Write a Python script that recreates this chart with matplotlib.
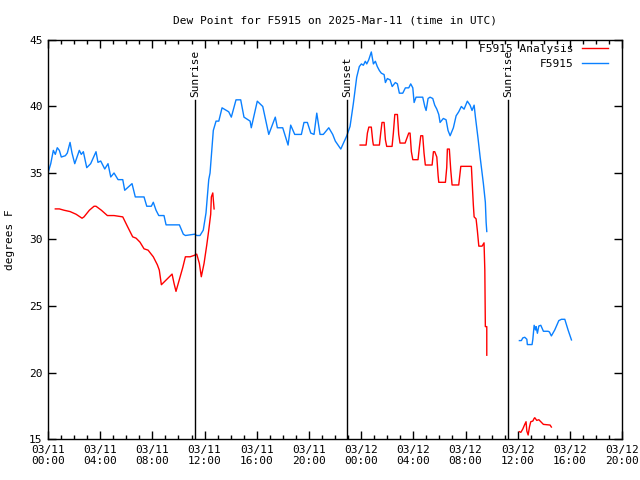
"""
Dew point at station F5915 on 2025-Mar-11, observed vs. analysis,
drawn in the look of the gnuplot original.
"""
import numpy as np
import matplotlib
matplotlib.use("Agg")
import matplotlib.pyplot as plt
from matplotlib.ticker import MultipleLocator, FixedLocator, NullLocator


OUTPUT = "out.png"
FONT = "DejaVu Sans Mono"
RED = "#ff0000"
BLUE = "#0a80ff"

# hours since 03/11 00:00 UTC
OBS_HOURS_1 = [
    0.00, 0.21, 0.41, 0.56, 0.71, 0.87, 1.02, 1.33, 1.48, 1.69, 1.84, 2.05,
    2.40, 2.55, 2.71, 2.97, 3.27, 3.68, 3.83, 4.04, 4.35, 4.60, 4.81, 5.06,
    5.37, 5.73, 5.88, 6.44, 6.69, 7.36, 7.57, 7.92, 8.07, 8.28, 8.49, 8.89,
    9.05, 10.07, 10.37, 10.53, 11.25, 11.40, 11.65, 11.90, 12.11, 12.32,
    12.42, 12.67, 12.88, 13.09, 13.34, 13.85, 14.05, 14.41, 14.77, 15.02,
    15.49, 15.58, 16.04, 16.46, 16.92, 17.42, 17.58, 17.99, 18.40, 18.60,
    18.91, 19.42, 19.62, 19.88, 20.14, 20.39, 20.60, 20.85, 21.10, 21.52,
    21.82, 22.02, 22.44, 22.90, 23.15, 23.40, 23.66, 23.86, 24.02, 24.17,
    24.32, 24.43, 24.58, 24.78, 24.94, 25.09, 25.24, 25.40, 25.55, 25.76,
    25.86, 26.01, 26.22, 26.38, 26.62, 26.78, 26.93, 27.19, 27.39, 27.65,
    27.80, 27.96, 28.06, 28.21, 28.72, 28.88, 28.98, 29.13, 29.28, 29.49,
    29.64, 29.80, 29.95, 30.05, 30.30, 30.51, 30.66, 30.82, 31.07, 31.28,
    31.48, 31.68, 31.89, 32.14, 32.35, 32.50, 32.66, 32.76, 32.96, 33.12,
    33.37, 33.52, 33.58, 33.63,
]
OBS_DEW_1 = [
    35.0, 35.7, 36.7, 36.4, 36.9, 36.7, 36.2, 36.3, 36.5, 37.3, 36.5, 35.7,
    36.7, 36.4, 36.6, 35.4, 35.7, 36.6, 35.8, 35.9, 35.3, 35.7, 34.7, 35.0,
    34.5, 34.5, 33.7, 34.2, 33.2, 33.2, 32.5, 32.5, 32.8, 32.2, 31.8, 31.8,
    31.1, 31.1, 30.4, 30.3, 30.4, 30.3, 30.3, 30.7, 32.0, 34.5,
    35.0, 38.2, 38.9, 38.9, 39.9, 39.6, 39.2, 40.5, 40.5, 39.2,
    38.9, 38.4, 40.4, 40.0, 37.9, 39.2, 38.4, 38.4, 37.1, 38.6,
    37.9, 37.9, 38.8, 38.8, 38.0, 37.9, 39.5, 37.9, 37.9, 38.4,
    37.9, 37.4, 36.8, 37.8, 38.5, 40.2, 42.2, 43.0, 43.2, 43.1,
    43.4, 43.2, 43.5, 44.1, 43.2, 43.4, 43.0, 42.7, 42.5, 42.4,
    41.8, 42.1, 42.0, 41.5, 41.8, 41.7, 41.0, 41.0, 41.4, 41.4,
    41.7, 41.4, 40.3, 40.7, 40.7, 40.0, 39.7, 40.6, 40.7, 40.6,
    40.1, 39.8, 39.4, 38.8, 39.1, 39.0, 38.2, 37.8, 38.4, 39.3,
    39.6, 40.0, 39.8, 40.4, 40.1, 39.7, 40.1, 39.2, 37.6, 36.2,
    34.2, 32.8, 31.3, 30.6,
]
OBS_HOURS_2 = [
    36.13, 36.28, 36.39, 36.54, 36.70, 36.74, 37.10, 37.16, 37.26, 37.36,
    37.41, 37.51, 37.62, 37.77, 37.97, 38.33, 38.43, 38.58, 38.84, 39.15,
    39.35, 39.61, 39.86, 40.12,
]
OBS_DEW_2 = [
    22.4, 22.4, 22.6, 22.65, 22.5, 22.1, 22.1, 22.5, 23.55, 23.2,
    23.45, 22.95, 23.5, 23.55, 23.1, 23.1, 23.05, 22.75, 23.2, 23.9,
    24.0, 24.0, 23.2, 22.45,
]

ANA_HOURS_1 = [
    0.56, 0.87, 1.23, 1.69, 2.15, 2.61, 2.76, 3.17, 3.53, 3.68, 4.09, 4.55,
    5.06, 5.73, 6.08, 6.49, 6.75, 7.05, 7.36, 7.67, 8.07, 8.38, 8.53, 8.69,
    9.10, 9.51, 9.66, 9.81, 10.07, 10.33, 10.53, 10.89, 11.19, 11.40, 11.60,
    11.75, 11.96, 12.17, 12.32, 12.47, 12.52, 12.63, 12.67, 12.73,
]
ANA_DEW_1 = [
    32.3, 32.3, 32.2, 32.1, 31.9, 31.6, 31.7, 32.2, 32.5, 32.5, 32.2, 31.8,
    31.8, 31.7, 31.0, 30.2, 30.1, 29.8, 29.3, 29.2, 28.7, 28.1, 27.7, 26.6,
    27.0, 27.4, 26.7, 26.1, 27.0, 27.9, 28.7, 28.7, 28.8, 28.9, 28.2,
    27.2, 28.2, 29.6, 30.7, 31.9, 33.2, 33.5, 33.0, 32.3,
]
ANA_HOURS_2 = [
    23.92, 24.38, 24.48, 24.59, 24.78, 24.89, 24.94, 25.40, 25.50, 25.60,
    25.76, 25.86, 25.96, 26.37, 26.47, 26.58, 26.78, 26.88, 26.98, 27.37,
    27.50, 27.65, 27.75, 27.85, 27.96, 28.36, 28.46, 28.57, 28.72, 28.82,
    28.92, 29.44, 29.54, 29.64, 29.80, 29.90, 29.95, 30.46, 30.56, 30.61,
    30.76, 30.87, 30.97, 31.48, 31.64, 32.45, 32.50, 32.60, 32.66, 32.81,
    32.91, 33.02, 33.27, 33.42, 33.48, 33.52, 33.63, 33.63,
]
ANA_DEW_2 = [
    37.1, 37.1, 38.0, 38.45, 38.45, 37.4, 37.1, 37.1, 38.0, 38.8,
    38.8, 37.5, 37.0, 37.0, 38.0, 39.4, 39.4, 37.9, 37.25, 37.25,
    37.6, 38.0, 38.0, 36.6, 36.0, 36.0, 36.9, 37.8, 37.8, 36.5,
    35.6, 35.6, 36.6, 36.6, 36.2, 34.8, 34.3, 34.3, 35.4, 36.8,
    36.8, 35.2, 34.1, 34.1, 35.5, 35.5, 34.5, 32.6, 31.7, 31.55,
    30.65, 29.5, 29.5, 29.75, 27.7, 23.45, 23.45, 21.3,
]
ANA_HOURS_3 = [
    36.13, 36.24, 36.39, 36.54, 36.64, 36.70, 36.80, 36.90, 37.00, 37.16,
    37.26, 37.31, 37.46, 37.62, 37.97, 38.48, 38.58,
]
ANA_DEW_3 = [
    15.55, 15.5, 15.75, 16.1, 16.3, 15.6, 15.3, 15.9, 16.3, 16.35,
    16.55, 16.6, 16.4, 16.45, 16.1, 16.05, 15.9,
]

SUN_EVENTS = ["Sunrise", "Sunset", "Sunrise"]
SUN_HOURS = [11.27, 22.92, 35.26]
SUN_LINE_TOP = 40.5

X_TICKS = list(range(0, 45, 4))
X_LABELS = [
    "03/11\n00:00", "03/11\n04:00", "03/11\n08:00", "03/11\n12:00",
    "03/11\n16:00", "03/11\n20:00", "03/12\n00:00", "03/12\n04:00",
    "03/12\n08:00", "03/12\n12:00", "03/12\n16:00", "03/12\n20:00",
]
Y_TICKS = [15, 20, 25, 30, 35, 40, 45]


if __name__ == "__main__":
    plt.rcParams["font.family"] = [FONT]
    plt.rcParams["font.size"] = 8

    fig = plt.figure(figsize=(6.4, 4.8), dpi=100)
    ax = fig.add_axes([0.075, 0.0854, 0.897, 0.8313])

    ax.plot(ANA_HOURS_1, ANA_DEW_1, color=RED, lw=1.0, label="F5915 Analysis")
    ax.plot(ANA_HOURS_2, ANA_DEW_2, color=RED, lw=1.0)
    ax.plot(ANA_HOURS_3, ANA_DEW_3, color=RED, lw=1.0)
    ax.plot(OBS_HOURS_1, OBS_DEW_1, color=BLUE, lw=1.0, label="F5915")
    ax.plot(OBS_HOURS_2, OBS_DEW_2, color=BLUE, lw=1.0)

    for name, hour in zip(SUN_EVENTS, SUN_HOURS):
        ax.plot([hour, hour], [15, SUN_LINE_TOP], color="black", lw=1.0)
        ax.text(hour, SUN_LINE_TOP + 0.25, name, rotation=90,
                ha="center", va="bottom", fontsize=8)

    ax.set_xlim(0, 44)
    ax.set_ylim(15, 45)
    ax.xaxis.set_major_locator(FixedLocator(X_TICKS))
    ax.xaxis.set_minor_locator(MultipleLocator(1))
    ax.set_xticklabels(X_LABELS)
    ax.yaxis.set_major_locator(FixedLocator(Y_TICKS))
    ax.yaxis.set_minor_locator(NullLocator())

    ax.tick_params(which="both", direction="in", top=True, right=True,
                   width=1.0, labelsize=8, pad=4)
    ax.tick_params(which="major", length=6)
    ax.tick_params(which="minor", length=3)
    for spine in ax.spines.values():
        spine.set_linewidth(1.0)

    ax.set_ylabel("degrees F", fontsize=8, labelpad=10)
    ax.set_title("Dew Point for F5915 on 2025-Mar-11 (time in UTC)",
                 fontsize=8, pad=12)

    leg = ax.legend(loc="upper right", frameon=False, fontsize=8,
                    handlelength=2.35, handletextpad=0.8, markerfirst=False,
                    borderaxespad=0.0, borderpad=0.2, labelspacing=0.4,
                    bbox_to_anchor=(0.98, 0.995))

    plt.savefig(OUTPUT, dpi=100)
